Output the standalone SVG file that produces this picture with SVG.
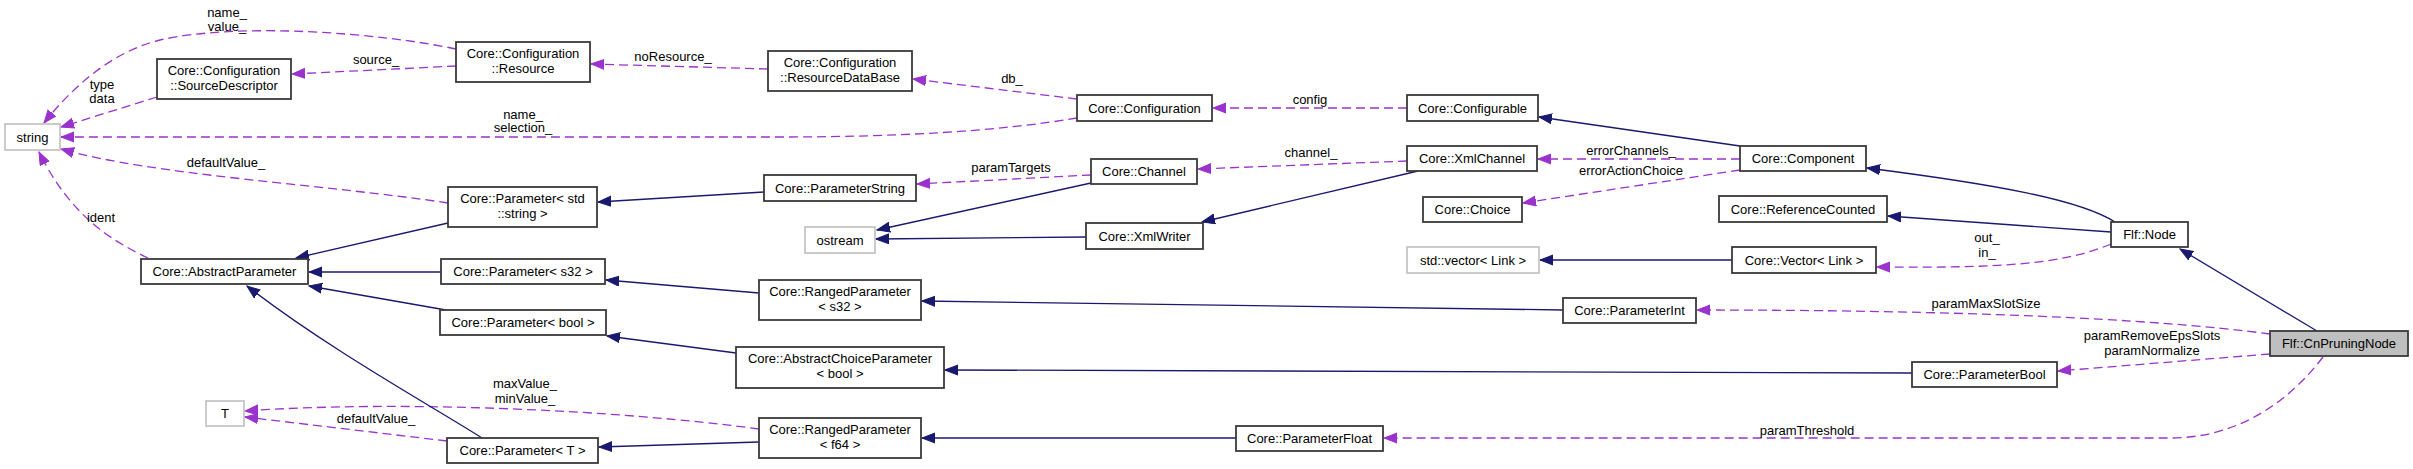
<svg xmlns="http://www.w3.org/2000/svg" width="2413" height="469" viewBox="0 0 2413 469">
<style>
.n rect{fill:#fff;stroke:#3a3a3a;stroke-width:1.8}
.g rect{fill:#fff;stroke:#bfbfbf;stroke-width:1.6}
.s rect{fill:#bfbfbf;stroke:#3a3a3a;stroke-width:1.8}
text{font-family:"Liberation Sans",Arial,sans-serif;font-size:13px;fill:#000;text-anchor:middle}
.inh{fill:none;stroke:#191970;stroke-width:1.3;marker-end:url(#ai)}
.use{fill:none;stroke:#9a32cd;stroke-width:1.3;stroke-dasharray:9,5;marker-end:url(#au)}
</style>
<defs>
<marker id="ai" markerUnits="userSpaceOnUse" markerWidth="14" markerHeight="12" refX="13" refY="5.5" orient="auto"><path d="M0,0.5 L13,5.5 L0,10.5 z" fill="#191970" stroke="#191970"/></marker>
<marker id="au" markerUnits="userSpaceOnUse" markerWidth="14" markerHeight="12" refX="13" refY="5.5" orient="auto"><path d="M0,0.5 L13,5.5 L0,10.5 z" fill="#9a32cd" stroke="#9a32cd"/></marker>
</defs>
<rect width="2413" height="469" fill="#fff"/>
<g id="edges">
<path class="use" d="M456,49 C380,33 240,22 160,40 C110,52 70,90 44,123"/>
<path class="use" d="M456,66 L292,74"/>
<path class="use" d="M157,97 L61,127"/>
<path class="use" d="M768,69 L591,64"/>
<path class="use" d="M1077,99 L913,79"/>
<path class="use" d="M1077,118 C1000,131 900,137 780,137 L61,137"/>
<path class="use" d="M1407,108 L1213,108"/>
<path class="use" d="M448,203 C330,185 150,175 61,149"/>
<path class="use" d="M148,258 C110,240 70,215 39,152"/>
<path class="use" d="M1091,175 L917,184"/>
<path class="use" d="M1407,161 L1198,169"/>
<path class="use" d="M1740,159 L1538,159"/>
<path class="use" d="M1740,170 L1523,203"/>
<path class="use" d="M2111,244 C2060,265 2000,268 1877,267"/>
<path class="use" d="M2270,334 C2150,318 1950,310 1697,310"/>
<path class="use" d="M2270,354 L2058,371"/>
<path class="use" d="M2323,357 C2290,400 2240,438 2170,438 L1384,438"/>
<path class="use" d="M759,429 C620,410 400,400 245,411"/>
<path class="use" d="M447,441 L245,417"/>
<path class="inh" d="M764,192 L598,202"/>
<path class="inh" d="M448,223 L296,258"/>
<path class="inh" d="M441,272 L309,272"/>
<path class="inh" d="M446,310 L309,286"/>
<path class="inh" d="M482,438 C430,405 330,350 247,286"/>
<path class="inh" d="M759,293 L606,280"/>
<path class="inh" d="M736,353 L607,336"/>
<path class="inh" d="M759,442 L599,447"/>
<path class="inh" d="M1563,310 L922,301"/>
<path class="inh" d="M1912,373 L945,370"/>
<path class="inh" d="M1236,438 L922,438"/>
<path class="inh" d="M1091,183 L877,230"/>
<path class="inh" d="M1086,237 L876,239"/>
<path class="inh" d="M1418,171 L1202,222"/>
<path class="inh" d="M1740,146 L1539,117"/>
<path class="inh" d="M2115,222 C2080,200 2000,185 1867,168"/>
<path class="inh" d="M2111,232 L1888,216"/>
<path class="inh" d="M1732,260 L1540,260"/>
<path class="inh" d="M2317,331 L2180,249"/>
<text x="227" y="17">name_</text><text x="227" y="31">value_</text>
<text x="376" y="64">source_</text>
<text x="102" y="89">type</text><text x="102" y="103">data</text>
<text x="673" y="61">noResource_</text>
<text x="523" y="119">name_</text><text x="523" y="132">selection_</text>
<text x="226" y="167">defaultValue_</text>
<text x="101" y="222">ident</text>
<text x="1012" y="83">db_</text>
<text x="1310" y="104">config</text>
<text x="1011" y="172">paramTargets</text>
<text x="1311" y="157">channel_</text>
<text x="1631" y="155">errorChannels_</text>
<text x="1631" y="175">errorActionChoice</text>
<text x="1987" y="242">out_</text><text x="1987" y="257">in_</text>
<text x="1986" y="308">paramMaxSlotSize</text>
<text x="2152" y="340">paramRemoveEpsSlots</text><text x="2152" y="355">paramNormalize</text>
<text x="1807" y="435">paramThreshold</text>
<text x="525" y="388">maxValue_</text><text x="525" y="403">minValue_</text>
<text x="376" y="423">defaultValue_</text>
</g>
<g id="n_string" class="g"><rect x="5" y="124" width="55" height="26"/><text x="32.5" y="141.5">string</text></g>
<g id="n_srcdesc" class="n"><rect x="157" y="59" width="134" height="40"/><text x="224" y="74.5">Core::Configuration</text><text x="224" y="89.5">::SourceDescriptor</text></g>
<g id="n_resource" class="n"><rect x="456" y="42" width="134" height="40"/><text x="523" y="57.5">Core::Configuration</text><text x="523" y="72.5">::Resource</text></g>
<g id="n_resdb" class="n"><rect x="768" y="51" width="144" height="40"/><text x="840" y="66.5">Core::Configuration</text><text x="840" y="81.5">::ResourceDataBase</text></g>
<g id="n_configuration" class="n"><rect x="1077" y="95" width="135" height="26"/><text x="1144.5" y="112.5">Core::Configuration</text></g>
<g id="n_configurable" class="n"><rect x="1407" y="95" width="131" height="26"/><text x="1472.5" y="112.5">Core::Configurable</text></g>
<g id="n_component" class="n"><rect x="1740" y="146" width="126" height="25"/><text x="1803" y="163">Core::Component</text></g>
<g id="n_xmlchannel" class="n"><rect x="1407" y="146" width="130" height="25"/><text x="1472" y="163">Core::XmlChannel</text></g>
<g id="n_channel" class="n"><rect x="1091" y="159" width="106" height="25"/><text x="1144" y="176">Core::Channel</text></g>
<g id="n_paramstring" class="n"><rect x="764" y="175" width="152" height="26"/><text x="840" y="192.5">Core::ParameterString</text></g>
<g id="n_paramstd" class="n"><rect x="448" y="187" width="149" height="40"/><text x="522.5" y="202.5">Core::Parameter&lt; std</text><text x="522.5" y="217.5">::string &gt;</text></g>
<g id="n_choice" class="n"><rect x="1423" y="197" width="99" height="25"/><text x="1472.5" y="214">Core::Choice</text></g>
<g id="n_refcounted" class="n"><rect x="1719" y="196" width="168" height="26"/><text x="1803" y="213.5">Core::ReferenceCounted</text></g>
<g id="n_ostream" class="g"><rect x="805" y="227" width="70" height="26"/><text x="840" y="244.5">ostream</text></g>
<g id="n_xmlwriter" class="n"><rect x="1086" y="223" width="117" height="26"/><text x="1144.5" y="240.5">Core::XmlWriter</text></g>
<g id="n_stdvector" class="g"><rect x="1407" y="247" width="132" height="26"/><text x="1473" y="264.5">std::vector&lt; Link &gt;</text></g>
<g id="n_vector" class="n"><rect x="1732" y="247" width="144" height="26"/><text x="1804" y="264.5">Core::Vector&lt; Link &gt;</text></g>
<g id="n_flfnode" class="n"><rect x="2111" y="222" width="77" height="25"/><text x="2149.5" y="239">Flf::Node</text></g>
<g id="n_abstractparam" class="n"><rect x="141" y="259" width="167" height="25"/><text x="224.5" y="276">Core::AbstractParameter</text></g>
<g id="n_params32" class="n"><rect x="441" y="259" width="164" height="25"/><text x="523" y="276">Core::Parameter&lt; s32 &gt;</text></g>
<g id="n_ranged32" class="n"><rect x="759" y="280" width="162" height="40"/><text x="840" y="295.5">Core::RangedParameter</text><text x="840" y="310.5">&lt; s32 &gt;</text></g>
<g id="n_paramint" class="n"><rect x="1563" y="298" width="133" height="25"/><text x="1629.5" y="315">Core::ParameterInt</text></g>
<g id="n_parambool" class="n"><rect x="440" y="310" width="166" height="25"/><text x="523" y="327">Core::Parameter&lt; bool &gt;</text></g>
<g id="n_cnpruning" class="s"><rect x="2270" y="331" width="138" height="25"/><text x="2339" y="348">Flf::CnPruningNode</text></g>
<g id="n_abschoice" class="n"><rect x="736" y="347" width="208" height="41"/><text x="840" y="362.5">Core::AbstractChoiceParameter</text><text x="840" y="377.5">&lt; bool &gt;</text></g>
<g id="n_parameterbool" class="n"><rect x="1912" y="362" width="145" height="25"/><text x="1984.5" y="379">Core::ParameterBool</text></g>
<g id="n_T" class="g"><rect x="206" y="401" width="38" height="25"/><text x="225" y="418">T</text></g>
<g id="n_ranged64" class="n"><rect x="759" y="418" width="162" height="40"/><text x="840" y="433.5">Core::RangedParameter</text><text x="840" y="448.5">&lt; f64 &gt;</text></g>
<g id="n_paramfloat" class="n"><rect x="1236" y="426" width="147" height="25"/><text x="1309.5" y="443">Core::ParameterFloat</text></g>
<g id="n_paramT" class="n"><rect x="447" y="438" width="151" height="25"/><text x="522.5" y="455">Core::Parameter&lt; T &gt;</text></g>
</svg>
